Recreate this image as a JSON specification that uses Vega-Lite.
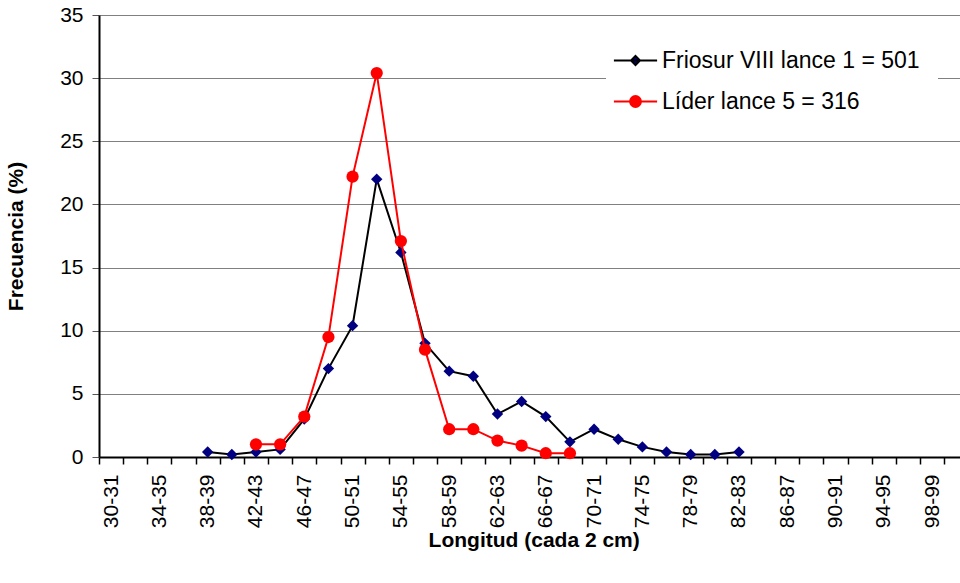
{
  "$schema": "https://vega.github.io/schema/vega-lite/v6.json",
  "width": 861,
  "height": 442,
  "autosize": {"type": "none"},
  "padding": {"left": 99, "top": 15, "right": 0, "bottom": 126},
  "background": "white",
  "config": {"view": {"stroke": null}, "font": "Liberation Sans"},
  "data": {
    "values": [
      {"cat": "38-39", "series": "Friosur VIII lance 1 = 501", "value": 0.4},
      {"cat": "40-41", "series": "Friosur VIII lance 1 = 501", "value": 0.2},
      {"cat": "42-43", "series": "Friosur VIII lance 1 = 501", "value": 0.4},
      {"cat": "44-45", "series": "Friosur VIII lance 1 = 501", "value": 0.6},
      {"cat": "46-47", "series": "Friosur VIII lance 1 = 501", "value": 3.0},
      {"cat": "48-49", "series": "Friosur VIII lance 1 = 501", "value": 7.0},
      {"cat": "50-51", "series": "Friosur VIII lance 1 = 501", "value": 10.4},
      {"cat": "52-53", "series": "Friosur VIII lance 1 = 501", "value": 22.0},
      {"cat": "54-55", "series": "Friosur VIII lance 1 = 501", "value": 16.2},
      {"cat": "56-57", "series": "Friosur VIII lance 1 = 501", "value": 9.0},
      {"cat": "58-59", "series": "Friosur VIII lance 1 = 501", "value": 6.8},
      {"cat": "60-61", "series": "Friosur VIII lance 1 = 501", "value": 6.4},
      {"cat": "62-63", "series": "Friosur VIII lance 1 = 501", "value": 3.4},
      {"cat": "64-65", "series": "Friosur VIII lance 1 = 501", "value": 4.4},
      {"cat": "66-67", "series": "Friosur VIII lance 1 = 501", "value": 3.2},
      {"cat": "68-69", "series": "Friosur VIII lance 1 = 501", "value": 1.2},
      {"cat": "70-71", "series": "Friosur VIII lance 1 = 501", "value": 2.2},
      {"cat": "72-73", "series": "Friosur VIII lance 1 = 501", "value": 1.4},
      {"cat": "74-75", "series": "Friosur VIII lance 1 = 501", "value": 0.8},
      {"cat": "76-77", "series": "Friosur VIII lance 1 = 501", "value": 0.4},
      {"cat": "78-79", "series": "Friosur VIII lance 1 = 501", "value": 0.2},
      {"cat": "80-81", "series": "Friosur VIII lance 1 = 501", "value": 0.2},
      {"cat": "82-83", "series": "Friosur VIII lance 1 = 501", "value": 0.4},
      {"cat": "42-43", "series": "Líder lance 5 = 316", "value": 1.0},
      {"cat": "44-45", "series": "Líder lance 5 = 316", "value": 1.0},
      {"cat": "46-47", "series": "Líder lance 5 = 316", "value": 3.2},
      {"cat": "48-49", "series": "Líder lance 5 = 316", "value": 9.5},
      {"cat": "50-51", "series": "Líder lance 5 = 316", "value": 22.2},
      {"cat": "52-53", "series": "Líder lance 5 = 316", "value": 30.4},
      {"cat": "54-55", "series": "Líder lance 5 = 316", "value": 17.1},
      {"cat": "56-57", "series": "Líder lance 5 = 316", "value": 8.5},
      {"cat": "58-59", "series": "Líder lance 5 = 316", "value": 2.2},
      {"cat": "60-61", "series": "Líder lance 5 = 316", "value": 2.2},
      {"cat": "62-63", "series": "Líder lance 5 = 316", "value": 1.3},
      {"cat": "64-65", "series": "Líder lance 5 = 316", "value": 0.9},
      {"cat": "66-67", "series": "Líder lance 5 = 316", "value": 0.3},
      {"cat": "68-69", "series": "Líder lance 5 = 316", "value": 0.3}
    ]
  },
  "encoding": {
    "x": {
      "field": "cat",
      "type": "ordinal",
      "scale": {
        "type": "band",
        "paddingInner": 0,
        "paddingOuter": 0,
        "range": [0, 869.4],
        "domain": ["30-31","32-33","34-35","36-37","38-39","40-41","42-43","44-45","46-47","48-49","50-51","52-53","54-55","56-57","58-59","60-61","62-63","64-65","66-67","68-69","70-71","72-73","74-75","76-77","78-79","80-81","82-83","84-85","86-87","88-89","90-91","92-93","94-95","96-97","98-99","100-101"]
      },
      "axis": {
        "title": "Longitud (cada 2 cm)",
        "titleFont": "Liberation Sans",
        "titleFontSize": 21,
        "titleFontWeight": "bold",
        "titleColor": "#000000",
        "titlePadding": 2,
        "labelFont": "Liberation Sans",
        "labelFontSize": 21,
        "labelColor": "#000000",
        "labelAngle": -90,
        "labelPadding": 10,
        "labelExpr": "(toNumber(split(datum.value, '-')[0]) - 30) % 4 == 0 ? datum.value : ''",
        "tickBand": "extent",
        "tickSize": 7,
        "tickColor": "#000000",
        "tickWidth": 1.5,
        "domainColor": "#000000",
        "domainWidth": 2,
        "grid": false
      }
    },
    "y": {
      "field": "value",
      "type": "quantitative",
      "scale": {"domain": [0, 35], "nice": false},
      "axis": {
        "title": "Frecuencia (%)",
        "titleFont": "Liberation Sans",
        "titleFontSize": 21,
        "titleFontWeight": "bold",
        "titleColor": "#000000",
        "titlePadding": 33,
        "values": [0, 5, 10, 15, 20, 25, 30, 35],
        "labelFont": "Liberation Sans",
        "labelFontSize": 21,
        "labelColor": "#000000",
        "labelPadding": 9,
        "tickSize": 7,
        "tickColor": "#555555",
        "domainColor": "#000000",
        "domainWidth": 2,
        "grid": true,
        "gridColor": "#808080",
        "gridWidth": 1
      }
    }
  },
  "layer": [
    {
      "transform": [{"filter": "datum.series === 'Friosur VIII lance 1 = 501'"}],
      "layer": [
        {"mark": {"type": "line", "color": "#000000", "strokeWidth": 2}, "encoding": {}},
        {"mark": {"type": "point", "shape": "diamond", "filled": true, "size": 130, "opacity": 1, "color": "#000080"}, "encoding": {}}
      ]
    },
    {
      "transform": [{"filter": "datum.series === 'Líder lance 5 = 316'"}],
      "layer": [
        {"mark": {"type": "line", "color": "#FF0000", "strokeWidth": 2}, "encoding": {}},
        {"mark": {"type": "point", "shape": "circle", "filled": true, "size": 150, "opacity": 1, "color": "#FF0000"}, "encoding": {}}
      ]
    },
    {
      "transform": [{"filter": "false"}],
      "mark": {"type": "point", "filled": true, "opacity": 1, "strokeWidth": 2},
      "encoding": {
        "color": {
          "field": "series",
          "type": "nominal",
          "scale": {"domain": ["Friosur VIII lance 1 = 501", "Líder lance 5 = 316"], "range": ["#000080", "#FF0000"]},
          "legend": {
            "title": null,
            "orient": "none",
            "legendX": 507,
            "legendY": 16,
            "fillColor": "#ffffff",
            "padding": 18,
            "labelFont": "Liberation Sans",
            "labelFontSize": 23,
            "labelColor": "#000000",
            "labelLimit": 500,
            "labelOffset": 15,
            "rowPadding": 17,
            "symbolSize": 144,
            "symbolStrokeWidth": 2
          }
        },
        "shape": {
          "field": "series",
          "type": "nominal",
          "scale": {"domain": ["Friosur VIII lance 1 = 501", "Líder lance 5 = 316"], "range": ["M-3.6,0H3.6M0,-0.75L0.75,0L0,0.75L-0.75,0Z", "M-3.6,0H3.6M0.9,0A0.9,0.9,0,1,1,-0.9,0A0.9,0.9,0,1,1,0.9,0Z"]},
          "legend": {
            "title": null,
            "orient": "none",
            "legendX": 507,
            "legendY": 16,
            "fillColor": "#ffffff",
            "padding": 18,
            "labelFont": "Liberation Sans",
            "labelFontSize": 23,
            "labelColor": "#000000",
            "labelLimit": 500,
            "labelOffset": 15,
            "rowPadding": 17,
            "symbolSize": 144,
            "symbolStrokeWidth": 2
          }
        },
        "stroke": {
          "field": "series",
          "type": "nominal",
          "scale": {"domain": ["Friosur VIII lance 1 = 501", "Líder lance 5 = 316"], "range": ["#000000", "#FF0000"]},
          "legend": {
            "title": null,
            "orient": "none",
            "legendX": 507,
            "legendY": 16,
            "fillColor": "#ffffff",
            "padding": 18,
            "labelFont": "Liberation Sans",
            "labelFontSize": 23,
            "labelColor": "#000000",
            "labelLimit": 500,
            "labelOffset": 15,
            "rowPadding": 17,
            "symbolSize": 144,
            "symbolStrokeWidth": 2
          }
        }
      }
    }
  ]
}
